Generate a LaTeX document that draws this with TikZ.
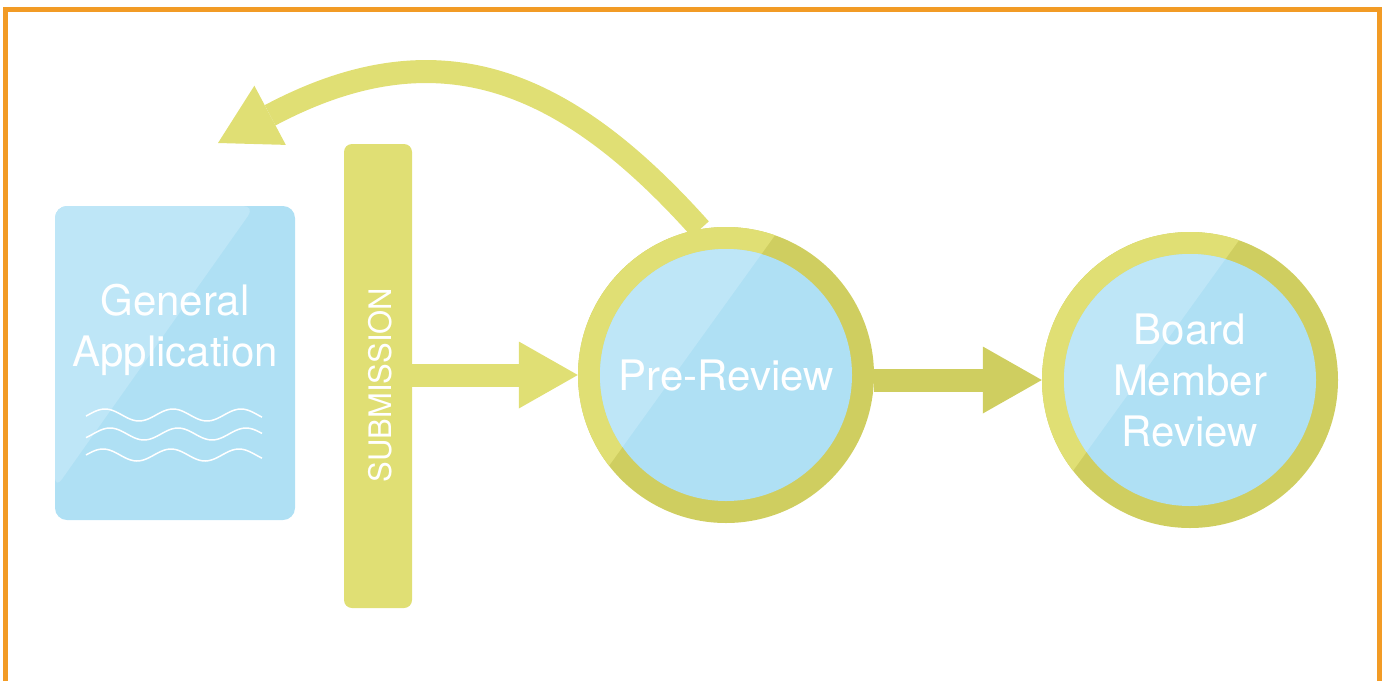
\documentclass[tikz,border=0pt]{standalone}
\usepackage{fontspec}
\setmainfont{TeX Gyre Heros}
\usetikzlibrary{arrows.meta}
\usetikzlibrary{calc}
\usetikzlibrary{positioning}

\definecolor{ringlight}{RGB}{224,223,116}
\definecolor{ringdark}{RGB}{207,206,96}
\definecolor{bluelight}{RGB}{190,230,247}
\definecolor{bluedark}{RGB}{175,224,244}
\definecolor{framecol}{RGB}{242,155,37}

\begin{document}
\begin{tikzpicture}[x=1pt,y=-1pt,
    bigtext/.style={text=white, font=\fontsize{42}{51}\selectfont, align=center},
    bigarrow/.style={line width=23pt, -{Triangle[width=67pt,length=59pt,line width=0pt]}},
    stage/.style={circle, minimum size=296pt, inner sep=0pt, fill=ringdark, bigtext,
        path picture={
            \fill[ringlight] ($(path picture bounding box.center)+(83,-187)$)
                -- ++(-234,325) -- ++(-244,-175) -- ++(234,-325) -- cycle;
            \fill[bluedark] (path picture bounding box.center) circle (126);
            \begin{scope}
                \clip (path picture bounding box.center) circle (126);
                \fill[bluelight] ($(path picture bounding box.center)+(83,-187)$)
                    -- ++(-234,325) -- ++(-244,-175) -- ++(234,-325) -- cycle;
            \end{scope}
        }},
    wave/.style={white, line width=1.5pt}]
    \useasboundingbox (0,0) rectangle (1385,681);

    % frame, open at the bottom
    \draw[framecol, line width=5pt] (5.5,681) -- (5.5,9) -- (1379.5,9) -- (1379.5,681);

    % the application sheet
    \node[rectangle, rounded corners=12pt, minimum width=240pt, minimum height=314pt, fill=bluedark,
        path picture={\fill[bluelight] (path picture bounding box.north west) -- ++(200,0) -- ++(-200,283) -- cycle;}]
        (doc) at (175,363) {};
    \node[bigtext] (doctitle) at (175,330) {General\\Application};
    \foreach \wy/\ph in {415/88, 434/93, 455/86} {
        \draw[wave] plot[domain=86:262, samples=60, smooth] (\x, {\wy - 6*sin((\x-\ph)*5.2941)});
    }

    % submission bar
    \node[rectangle, rounded corners=8pt, minimum width=68pt, minimum height=464pt, fill=ringlight] (sub) at (378,376) {};
    \node[text=white, font=\fontsize{31}{36}\selectfont, rotate=90] (sublabel) at (380,385) {SUBMISSION};

    % review stages
    \node[stage] (pre) at (726,375) {Pre-Review};
    \node[stage] (board) at (1190,380) {Board\\Member\\Review};

    % connectors
    \coordinate (backtip) at (218,143);
    \draw[bigarrow, ringlight] (sub.east |- pre.west) -- (pre.west);
    \draw[bigarrow, ringdark] (pre.east |- board.west) -- (board.west);
    \draw[bigarrow, ringlight] (pre.100) .. controls (567,80) and (440,25) .. (backtip);
\end{tikzpicture}
\end{document}
